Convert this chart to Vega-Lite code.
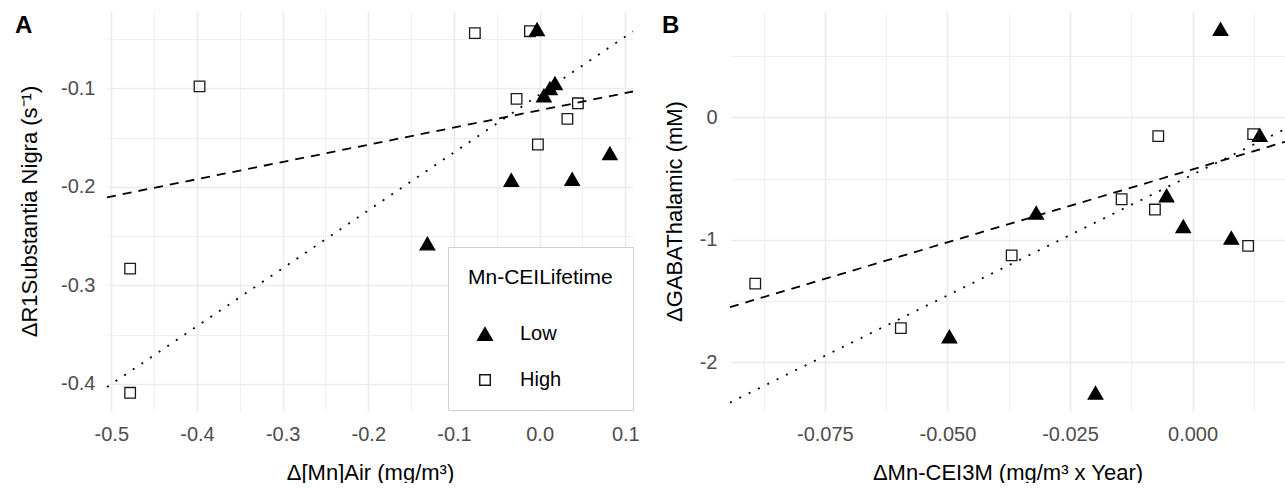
{
  "$schema": "https://vega.github.io/schema/vega-lite/v6.json",
  "background": "white",
  "padding": {"left": 15, "top": 11, "right": 0, "bottom": 0},
  "bounds": "flush",
  "spacing": 97,
  "resolve": {
    "scale": {"shape": "independent", "fill": "independent", "stroke": "independent", "size": "independent", "strokeDash": "independent"},
    "legend": {"shape": "independent", "fill": "independent", "stroke": "independent", "size": "independent", "strokeDash": "independent"}
  },
  "datasets": {
    "pointsA": [
      {"x": -0.0756, "y": -0.044, "group": "High"},
      {"x": -0.0113, "y": -0.042, "group": "High"},
      {"x": -0.0269, "y": -0.1107, "group": "High"},
      {"x": 0.0447, "y": -0.1152, "group": "High"},
      {"x": 0.0324, "y": -0.131, "group": "High"},
      {"x": -0.002, "y": -0.157, "group": "High"},
      {"x": -0.397, "y": -0.098, "group": "High"},
      {"x": -0.478, "y": -0.283, "group": "High"},
      {"x": -0.478, "y": -0.409, "group": "High"},
      {"x": -0.003, "y": -0.040, "group": "Low"},
      {"x": 0.0179, "y": -0.0949, "group": "Low"},
      {"x": 0.012, "y": -0.100, "group": "Low"},
      {"x": 0.005, "y": -0.1074, "group": "Low"},
      {"x": 0.082, "y": -0.166, "group": "Low"},
      {"x": -0.033, "y": -0.193, "group": "Low"},
      {"x": 0.038, "y": -0.192, "group": "Low"},
      {"x": -0.131, "y": -0.2575, "group": "Low"}
    ],
    "linesA": [
      {"x": -0.505, "y": -0.2106, "fit": "dashed"},
      {"x": 0.109, "y": -0.1032, "fit": "dashed"},
      {"x": -0.505, "y": -0.4032, "fit": "dotted"},
      {"x": 0.109, "y": -0.0422, "fit": "dotted"}
    ],
    "pointsB": [
      {"x": 0.0057, "y": 0.72, "group": "Low"},
      {"x": 0.0137, "y": -0.145, "group": "Low"},
      {"x": -0.0053, "y": -0.64, "group": "Low"},
      {"x": -0.0319, "y": -0.78, "group": "Low"},
      {"x": -0.0019, "y": -0.89, "group": "Low"},
      {"x": 0.0079, "y": -0.985, "group": "Low"},
      {"x": -0.0496, "y": -1.79, "group": "Low"},
      {"x": -0.0198, "y": -2.25, "group": "Low"},
      {"x": -0.0070, "y": -0.153, "group": "High"},
      {"x": 0.01236, "y": -0.137, "group": "High"},
      {"x": -0.01447, "y": -0.669, "group": "High"},
      {"x": -0.00768, "y": -0.753, "group": "High"},
      {"x": 0.01133, "y": -1.05, "group": "High"},
      {"x": -0.0369, "y": -1.127, "group": "High"},
      {"x": -0.0892, "y": -1.358, "group": "High"},
      {"x": -0.0595, "y": -1.722, "group": "High"}
    ],
    "linesB": [
      {"x": -0.09435, "y": -1.55, "fit": "dashed"},
      {"x": 0.01885, "y": -0.2, "fit": "dashed"},
      {"x": -0.09435, "y": -2.33, "fit": "dotted"},
      {"x": 0.01885, "y": -0.096, "fit": "dotted"}
    ]
  },
  "config": {
    "view": {"stroke": null},
    "font": "Liberation Sans",
    "axis": {
      "domain": false,
      "ticks": false,
      "gridColor": "#ebebeb",
      "labelFont": "Liberation Sans",
      "labelFontSize": 20,
      "labelColor": "#4d4d4d",
      "titleFont": "Liberation Sans",
      "titleFontSize": 22,
      "titleFontWeight": "normal",
      "titleColor": "#000000",
      "labelOverlap": false,
      "labelFlush": false,
      "labelBound": false
    },
    "title": {
      "font": "Liberation Sans",
      "fontSize": 24,
      "fontWeight": "bold",
      "color": "#000000",
      "anchor": "start",
      "frame": "group",
      "baseline": "top",
      "offset": -27
    }
  },
  "hconcat": [
    {
      "width": 526,
      "height": 400,
      "title": {"text": "A", "dx": -92},
      "layer": [
        {
          "data": {"name": "linesA"},
          "mark": {"type": "line", "color": "black", "strokeWidth": 1.8},
          "encoding": {
            "x": {
              "field": "x", "type": "quantitative",
              "scale": {"domain": [-0.505, 0.109], "nice": false, "zero": false},
              "axis": {
                "title": "Δ[Mn]Air (mg/m³)",
                "values": [-0.5, -0.45, -0.4, -0.35, -0.3, -0.25, -0.2, -0.15, -0.1, -0.05, 0, 0.05, 0.1],
                "labelExpr": "abs(datum.value*10-round(datum.value*10))<0.001 ? replace(format(datum.value,'.1f'),'−','-') : ''",
                "gridWidth": {"condition": {"test": "abs(datum.value*10-round(datum.value*10))<0.001", "value": 1.6}, "value": 0.8},
                "labelPadding": 13,
                "titlePadding": 18
              }
            },
            "y": {
              "field": "y", "type": "quantitative",
              "scale": {"domain": [-0.4275, -0.0215], "nice": false, "zero": false},
              "axis": {
                "title": "ΔR1Substantia Nigra (s⁻¹)",
                "values": [-0.4, -0.35, -0.3, -0.25, -0.2, -0.15, -0.1, -0.05],
                "labelExpr": "abs(datum.value*10-round(datum.value*10))<0.001 ? replace(format(datum.value,'.1f'),'−','-') : ''",
                "gridWidth": {"condition": {"test": "abs(datum.value*10-round(datum.value*10))<0.001", "value": 1.6}, "value": 0.8},
                "labelPadding": 12,
                "titlePadding": 19
              }
            },
            "strokeDash": {
              "field": "fit", "type": "nominal",
              "scale": {"domain": ["dashed", "dotted"], "range": [[9, 7], [2, 8.4]]},
              "legend": null
            }
          }
        },
        {
          "data": {"name": "pointsA"},
          "mark": {"type": "point", "filled": true, "opacity": 1, "strokeWidth": 1.3},
          "encoding": {
            "x": {"field": "x", "type": "quantitative"},
            "y": {"field": "y", "type": "quantitative"},
            "shape": {
              "field": "group", "type": "nominal",
              "scale": {"domain": ["Low", "High"], "range": ["triangle-up", "square"]},
              "legend": {
                "title": "Mn-CEILifetime",
                "orient": "none",
                "legendX": 341,
                "legendY": 236,
                "fillColor": "white",
                "strokeColor": "#d0d0d0",
                "padding": 20,
                "titleFont": "Liberation Sans",
                "titleFontSize": 21,
                "titleFontWeight": "normal",
                "titleColor": "#000000",
                "titlePadding": 36,
                "labelFont": "Liberation Sans",
                "labelFontSize": 20,
                "labelColor": "#000000",
                "rowPadding": 26,
                "symbolOffset": 7,
                "labelOffset": 25
              }
            },
            "fill": {
              "field": "group", "type": "nominal",
              "scale": {"domain": ["Low", "High"], "range": ["#000000", "transparent"]}
            },
            "stroke": {
              "field": "group", "type": "nominal",
              "scale": {"domain": ["Low", "High"], "range": ["#000000", "#1a1a1a"]}
            },
            "size": {
              "field": "group", "type": "nominal",
              "scale": {"domain": ["Low", "High"], "range": [210, 112]}
            }
          }
        }
      ]
    },
    {
      "width": 555,
      "height": 400,
      "title": {"text": "B", "dx": -68},
      "layer": [
        {
          "data": {"name": "linesB"},
          "mark": {"type": "line", "color": "black", "strokeWidth": 1.8},
          "encoding": {
            "x": {
              "field": "x", "type": "quantitative",
              "scale": {"domain": [-0.09435, 0.01885], "nice": false, "zero": false},
              "axis": {
                "title": "ΔMn-CEI3M (mg/m³ x Year)",
                "values": [-0.0875, -0.075, -0.0625, -0.05, -0.0375, -0.025, -0.0125, 0, 0.0125],
                "labelExpr": "abs(datum.value*40-round(datum.value*40))<0.001 ? replace(format(datum.value,'.3f'),'−','-') : ''",
                "gridWidth": {"condition": {"test": "abs(datum.value*40-round(datum.value*40))<0.001", "value": 1.6}, "value": 0.8},
                "labelPadding": 13,
                "titlePadding": 18
              }
            },
            "y": {
              "field": "y", "type": "quantitative",
              "scale": {"domain": [-2.3985, 0.8685], "nice": false, "zero": false},
              "axis": {
                "title": "ΔGABAThalamic (mM)",
                "values": [-2, -1.5, -1, -0.5, 0, 0.5],
                "labelExpr": "abs(datum.value-round(datum.value))<0.001 ? replace(format(datum.value,'d'),'−','-') : ''",
                "gridWidth": {"condition": {"test": "abs(datum.value-round(datum.value))<0.001", "value": 1.6}, "value": 0.8},
                "labelPadding": 13,
                "titlePadding": 13
              }
            },
            "strokeDash": {
              "field": "fit", "type": "nominal",
              "scale": {"domain": ["dashed", "dotted"], "range": [[9, 7], [2, 8.4]]},
              "legend": null
            }
          }
        },
        {
          "data": {"name": "pointsB"},
          "mark": {"type": "point", "filled": true, "opacity": 1, "strokeWidth": 1.3},
          "encoding": {
            "x": {"field": "x", "type": "quantitative"},
            "y": {"field": "y", "type": "quantitative"},
            "shape": {
              "field": "group", "type": "nominal",
              "scale": {"domain": ["Low", "High"], "range": ["triangle-up", "square"]},
              "legend": null
            },
            "fill": {
              "field": "group", "type": "nominal",
              "scale": {"domain": ["Low", "High"], "range": ["#000000", "transparent"]},
              "legend": null
            },
            "stroke": {
              "field": "group", "type": "nominal",
              "scale": {"domain": ["Low", "High"], "range": ["#000000", "#1a1a1a"]},
              "legend": null
            },
            "size": {
              "field": "group", "type": "nominal",
              "scale": {"domain": ["Low", "High"], "range": [210, 112]},
              "legend": null
            }
          }
        }
      ]
    }
  ]
}
